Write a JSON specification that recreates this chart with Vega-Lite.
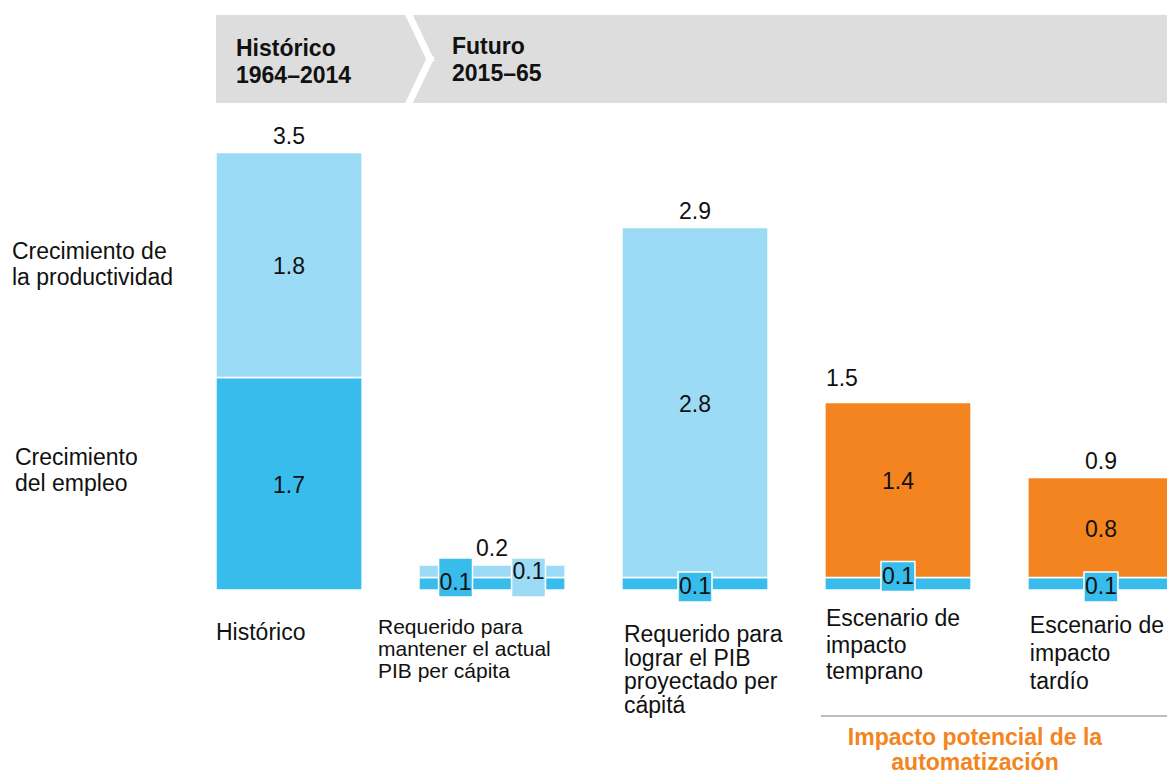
{
  "$schema": "https://vega.github.io/schema/vega-lite/v6.json",
  "width": 1167,
  "height": 776,
  "padding": 0,
  "autosize": {"type": "none"},
  "background": "white",
  "config": {
    "view": {"stroke": null},
    "axis": {"disable": true},
    "legend": {"disable": true},
    "text": {"font": "Liberation Sans", "fontSize": 23, "color": "#111111"}
  },
  "datasets": {
    "segmentos": [
      {"cat": "Histórico", "serie": "empleo", "orden": 1, "valor": 1.7},
      {"cat": "Histórico", "serie": "productividad", "orden": 2, "valor": 1.8},
      {"cat": "Mantener PIB", "serie": "empleo", "orden": 1, "valor": 0.1},
      {"cat": "Mantener PIB", "serie": "productividad", "orden": 2, "valor": 0.1},
      {"cat": "Lograr PIB", "serie": "empleo", "orden": 1, "valor": 0.1},
      {"cat": "Lograr PIB", "serie": "productividad", "orden": 2, "valor": 2.8},
      {"cat": "Impacto temprano", "serie": "empleo", "orden": 1, "valor": 0.1},
      {"cat": "Impacto temprano", "serie": "automatizacion", "orden": 2, "valor": 1.4},
      {"cat": "Impacto tardío", "serie": "empleo", "orden": 1, "valor": 0.1},
      {"cat": "Impacto tardío", "serie": "automatizacion", "orden": 2, "valor": 0.8}
    ],
    "totales": [
      {"cat": "Histórico", "total": 3.5},
      {"cat": "Mantener PIB", "total": 0.2},
      {"cat": "Lograr PIB", "total": 2.9},
      {"cat": "Impacto temprano", "total": 1.5},
      {"cat": "Impacto tardío", "total": 0.9}
    ],
    "categorias": [
      {"cat": "Histórico", "etiqueta": "Histórico"},
      {"cat": "Mantener PIB", "etiqueta": "Requerido para\nmantener el actual\nPIB per cápita"},
      {"cat": "Lograr PIB", "etiqueta": "Requerido para\nlograr el PIB\nproyectado per\ncápitá"},
      {"cat": "Impacto temprano", "etiqueta": "Escenario de\nimpacto\ntemprano"},
      {"cat": "Impacto tardío", "etiqueta": "Escenario de\nimpacto\ntardío"}
    ]
  },
  "layer": [
    {
      "layer": [
        {
          "data": {"name": "segmentos"},
          "mark": {"type": "bar", "stroke": "white", "strokeWidth": 1.5},
          "encoding": {
            "x": {"field": "cat", "type": "nominal", "axis": null,
                  "scale": {"domain": ["Histórico", "Mantener PIB", "Lograr PIB", "Impacto temprano", "Impacto tardío"], "range": [216, 1174], "paddingInner": 0.28, "paddingOuter": 0}},
            "y": {"field": "valor", "type": "quantitative", "stack": "zero", "axis": null,
                  "scale": {"domain": [0, 4], "range": [590, 90], "nice": false, "zero": false}},
            "color": {"field": "serie", "type": "nominal", "legend": null,
                      "scale": {"domain": ["empleo", "productividad", "automatizacion"], "range": ["#38BCEB", "#9BDBF6", "#F48420"]}},
            "order": {"field": "orden"}
          }
        },
        {
          "data": {"name": "segmentos"},
          "mark": {"type": "text", "baseline": "middle", "align": "center", "dy": 2},
          "encoding": {
            "x": {"field": "cat", "type": "nominal", "axis": null},
            "y": {"field": "valor", "type": "quantitative", "stack": "zero", "bandPosition": 0.5, "axis": null,
                  "scale": {"domain": [0, 4], "range": [590, 90], "nice": false, "zero": false}},
            "detail": {"field": "serie"},
            "order": {"field": "orden"},
            "text": {"condition": {"test": "datum.valor >= 0.5 && datum.cat !== 'Impacto temprano'", "field": "valor", "type": "quantitative", "format": ".1f"}, "value": ""}
          }
        },
        {
          "data": {"name": "segmentos"},
          "mark": {"type": "text", "baseline": "middle", "align": "center", "dy": -8},
          "encoding": {
            "x": {"field": "cat", "type": "nominal", "axis": null},
            "y": {"field": "valor", "type": "quantitative", "stack": "zero", "bandPosition": 0.5, "axis": null,
                  "scale": {"domain": [0, 4], "range": [590, 90], "nice": false, "zero": false}},
            "detail": {"field": "serie"},
            "order": {"field": "orden"},
            "text": {"condition": {"test": "datum.valor >= 0.5 && datum.cat === 'Impacto temprano'", "field": "valor", "type": "quantitative", "format": ".1f"}, "value": ""}
          }
        },
        {
          "data": {"name": "segmentos"},
          "transform": [{"filter": "datum.serie === 'empleo' && (datum.cat === 'Lograr PIB' || datum.cat === 'Impacto tardío')"}],
          "mark": {"type": "point", "filled": true, "opacity": 1, "stroke": "white", "strokeWidth": 1.5, "size": 1156, "shape": "M-1,-0.88L1,-0.88L1,0.88L-1,0.88Z", "yOffset": 9.5},
          "encoding": {
            "x": {"field": "cat", "type": "nominal", "axis": null},
            "y": {"field": "valor", "type": "quantitative", "axis": null, "scale": {"domain": [0, 4], "range": [590, 90], "nice": false, "zero": false}},
            "color": {"field": "serie", "type": "nominal", "legend": null}
          }
        },
        {
          "data": {"name": "segmentos"},
          "transform": [{"filter": "datum.serie === 'empleo' && datum.cat === 'Impacto temprano'"}],
          "mark": {"type": "point", "filled": true, "opacity": 1, "stroke": "white", "strokeWidth": 1.5, "size": 1156, "shape": "M-1,-0.88L1,-0.88L1,0.88L-1,0.88Z", "yOffset": -1},
          "encoding": {
            "x": {"field": "cat", "type": "nominal", "axis": null},
            "y": {"field": "valor", "type": "quantitative", "axis": null, "scale": {"domain": [0, 4], "range": [590, 90], "nice": false, "zero": false}},
            "color": {"field": "serie", "type": "nominal", "legend": null}
          }
        },
        {
          "data": {"name": "segmentos"},
          "transform": [{"filter": "datum.serie === 'empleo' && datum.cat === 'Mantener PIB'"}],
          "mark": {"type": "point", "filled": true, "opacity": 1, "stroke": "white", "strokeWidth": 1.5, "size": 1521, "shape": "M-0.87,-1L0.87,-1L0.87,1L-0.87,1Z", "xOffset": -36.5},
          "encoding": {
            "x": {"field": "cat", "type": "nominal", "axis": null},
            "y": {"field": "valor", "type": "quantitative", "axis": null, "scale": {"domain": [0, 4], "range": [590, 90], "nice": false, "zero": false}},
            "color": {"field": "serie", "type": "nominal", "legend": null}
          }
        },
        {
          "data": {"name": "segmentos"},
          "transform": [{"filter": "datum.serie === 'productividad' && datum.cat === 'Mantener PIB'"}],
          "mark": {"type": "point", "filled": true, "opacity": 1, "stroke": "white", "strokeWidth": 1.5, "size": 1521, "shape": "M-0.87,-1L0.87,-1L0.87,1L-0.87,1Z", "xOffset": 36.5},
          "encoding": {
            "x": {"field": "cat", "type": "nominal", "axis": null},
            "y": {"field": "valor", "type": "quantitative", "axis": null, "scale": {"domain": [0, 4], "range": [590, 90], "nice": false, "zero": false}},
            "color": {"field": "serie", "type": "nominal", "legend": null}
          }
        },
        {
          "data": {"name": "segmentos"},
          "transform": [{"filter": "datum.serie === 'empleo' && (datum.cat === 'Lograr PIB' || datum.cat === 'Impacto tardío')"}],
          "mark": {"type": "text", "baseline": "middle", "align": "center", "dy": 9.5},
          "encoding": {
            "x": {"field": "cat", "type": "nominal", "axis": null},
            "y": {"field": "valor", "type": "quantitative", "axis": null, "scale": {"domain": [0, 4], "range": [590, 90], "nice": false, "zero": false}},
            "text": {"field": "valor", "type": "quantitative", "format": ".1f"}
          }
        },
        {
          "data": {"name": "segmentos"},
          "transform": [{"filter": "datum.serie === 'empleo' && datum.cat === 'Impacto temprano'"}],
          "mark": {"type": "text", "baseline": "middle", "align": "center", "dy": -1},
          "encoding": {
            "x": {"field": "cat", "type": "nominal", "axis": null},
            "y": {"field": "valor", "type": "quantitative", "axis": null, "scale": {"domain": [0, 4], "range": [590, 90], "nice": false, "zero": false}},
            "text": {"field": "valor", "type": "quantitative", "format": ".1f"}
          }
        },
        {
          "data": {"name": "segmentos"},
          "transform": [{"filter": "datum.serie === 'empleo' && datum.cat === 'Mantener PIB'"}],
          "mark": {"type": "text", "baseline": "middle", "align": "center", "dx": -36.5, "dy": 5.5},
          "encoding": {
            "x": {"field": "cat", "type": "nominal", "axis": null},
            "y": {"field": "valor", "type": "quantitative", "axis": null, "scale": {"domain": [0, 4], "range": [590, 90], "nice": false, "zero": false}},
            "text": {"field": "valor", "type": "quantitative", "format": ".1f"}
          }
        },
        {
          "data": {"name": "segmentos"},
          "transform": [{"filter": "datum.serie === 'productividad' && datum.cat === 'Mantener PIB'"}],
          "mark": {"type": "text", "baseline": "middle", "align": "center", "dx": 36.5, "dy": -5.5},
          "encoding": {
            "x": {"field": "cat", "type": "nominal", "axis": null},
            "y": {"field": "valor", "type": "quantitative", "axis": null, "scale": {"domain": [0, 4], "range": [590, 90], "nice": false, "zero": false}},
            "text": {"field": "valor", "type": "quantitative", "format": ".1f"}
          }
        },
        {
          "data": {"name": "totales"},
          "transform": [{"filter": "datum.cat !== 'Impacto temprano'"}],
          "mark": {"type": "text", "baseline": "alphabetic", "align": "center", "dy": -9},
          "encoding": {
            "x": {"field": "cat", "type": "nominal", "axis": null},
            "y": {"field": "total", "type": "quantitative", "axis": null, "scale": {"domain": [0, 4], "range": [590, 90], "nice": false, "zero": false}},
            "text": {"field": "total", "type": "quantitative", "format": ".1f"}
          }
        },
        {
          "data": {"name": "totales"},
          "transform": [{"filter": "datum.cat === 'Impacto temprano'"}],
          "mark": {"type": "text", "baseline": "alphabetic", "align": "left", "dx": 1, "dy": -16.5},
          "encoding": {
            "x": {"field": "cat", "type": "nominal", "bandPosition": 0, "axis": null},
            "y": {"field": "total", "type": "quantitative", "axis": null, "scale": {"domain": [0, 4], "range": [590, 90], "nice": false, "zero": false}},
            "text": {"field": "total", "type": "quantitative", "format": ".1f"}
          }
        },
        {
          "data": {"name": "categorias"},
          "transform": [{"filter": "datum.cat === 'Histórico'"}],
          "mark": {"type": "text", "baseline": "alphabetic", "align": "left", "lineBreak": "\n", "dy": 50},
          "encoding": {
            "x": {"field": "cat", "type": "nominal", "bandPosition": 0, "axis": null},
            "y": {"datum": 0, "type": "quantitative", "axis": null, "scale": {"domain": [0, 4], "range": [590, 90], "nice": false, "zero": false}},
            "text": {"field": "etiqueta"}
          }
        },
        {
          "data": {"name": "categorias"},
          "transform": [{"filter": "datum.cat === 'Mantener PIB'"}],
          "mark": {"type": "text", "baseline": "alphabetic", "align": "left", "lineBreak": "\n", "fontSize": 21, "lineHeight": 22, "dx": -41, "dy": 44},
          "encoding": {
            "x": {"field": "cat", "type": "nominal", "bandPosition": 0, "axis": null},
            "y": {"datum": 0, "type": "quantitative", "axis": null, "scale": {"domain": [0, 4], "range": [590, 90], "nice": false, "zero": false}},
            "text": {"field": "etiqueta"}
          }
        },
        {
          "data": {"name": "categorias"},
          "transform": [{"filter": "datum.cat === 'Lograr PIB'"}],
          "mark": {"type": "text", "baseline": "alphabetic", "align": "left", "lineBreak": "\n", "lineHeight": 23.5, "dx": 2, "dy": 52},
          "encoding": {
            "x": {"field": "cat", "type": "nominal", "bandPosition": 0, "axis": null},
            "y": {"datum": 0, "type": "quantitative", "axis": null, "scale": {"domain": [0, 4], "range": [590, 90], "nice": false, "zero": false}},
            "text": {"field": "etiqueta"}
          }
        },
        {
          "data": {"name": "categorias"},
          "transform": [{"filter": "datum.cat === 'Impacto temprano'"}],
          "mark": {"type": "text", "baseline": "alphabetic", "align": "left", "lineBreak": "\n", "lineHeight": 26.5, "dx": 1, "dy": 36},
          "encoding": {
            "x": {"field": "cat", "type": "nominal", "bandPosition": 0, "axis": null},
            "y": {"datum": 0, "type": "quantitative", "axis": null, "scale": {"domain": [0, 4], "range": [590, 90], "nice": false, "zero": false}},
            "text": {"field": "etiqueta"}
          }
        },
        {
          "data": {"name": "categorias"},
          "transform": [{"filter": "datum.cat === 'Impacto tardío'"}],
          "mark": {"type": "text", "baseline": "alphabetic", "align": "left", "lineBreak": "\n", "lineHeight": 28, "dx": 2, "dy": 43},
          "encoding": {
            "x": {"field": "cat", "type": "nominal", "bandPosition": 0, "axis": null},
            "y": {"datum": 0, "type": "quantitative", "axis": null, "scale": {"domain": [0, 4], "range": [590, 90], "nice": false, "zero": false}},
            "text": {"field": "etiqueta"}
          }
        }
      ]
    },
    {
      "data": {"values": [{}]},
      "layer": [
        {
          "mark": {"type": "rect", "color": "#DDDDDD"},
          "encoding": {
            "x": {"datum": -0.3596, "type": "quantitative", "axis": null, "scale": {"domain": [-0.5, 4.5], "range": [187.5, 1202.5], "nice": false, "zero": false}},
            "x2": {"datum": 4.5},
            "y": {"datum": 4.6, "type": "quantitative", "axis": null, "scale": {"domain": [0, 4], "range": [590, 90], "nice": false, "zero": false}},
            "y2": {"datum": 3.896}
          }
        },
        {
          "mark": {"type": "rule", "color": "white", "strokeWidth": 7, "strokeCap": "square"},
          "encoding": {
            "x": {"datum": 0.5675, "type": "quantitative", "axis": null},
            "x2": {"datum": 0.6946},
            "y": {"datum": 4.68, "type": "quantitative", "axis": null},
            "y2": {"datum": 4.248}
          }
        },
        {
          "mark": {"type": "rule", "color": "white", "strokeWidth": 7, "strokeCap": "square"},
          "encoding": {
            "x": {"datum": 0.6946, "type": "quantitative", "axis": null},
            "x2": {"datum": 0.5675},
            "y": {"datum": 4.248, "type": "quantitative", "axis": null},
            "y2": {"datum": 3.816}
          }
        },
        {
          "mark": {"type": "text", "text": ["Histórico", "1964–2014"], "fontWeight": "bold", "align": "left", "baseline": "alphabetic", "lineHeight": 27},
          "encoding": {
            "x": {"datum": -0.2611, "type": "quantitative", "axis": null},
            "y": {"datum": 4.272, "type": "quantitative", "axis": null}
          }
        },
        {
          "mark": {"type": "text", "text": ["Futuro", "2015–65"], "fontWeight": "bold", "align": "left", "baseline": "alphabetic", "lineHeight": 27},
          "encoding": {
            "x": {"datum": 0.803, "type": "quantitative", "axis": null},
            "y": {"datum": 4.288, "type": "quantitative", "axis": null}
          }
        },
        {
          "mark": {"type": "text", "text": ["Crecimiento de", "la productividad"], "align": "left", "baseline": "alphabetic", "lineHeight": 26},
          "encoding": {
            "x": {"datum": -1.3645, "type": "quantitative", "axis": null},
            "y": {"datum": 2.648, "type": "quantitative", "axis": null}
          }
        },
        {
          "mark": {"type": "text", "text": ["Crecimiento", "del empleo"], "align": "left", "baseline": "alphabetic", "lineHeight": 26},
          "encoding": {
            "x": {"datum": -1.3498, "type": "quantitative", "axis": null},
            "y": {"datum": 1.0, "type": "quantitative", "axis": null}
          }
        },
        {
          "mark": {"type": "rule", "color": "#BDBDBD", "strokeWidth": 2},
          "encoding": {
            "x": {"datum": 2.6207, "type": "quantitative", "axis": null},
            "x2": {"datum": 4.5},
            "y": {"datum": -1.008, "type": "quantitative", "axis": null}
          }
        },
        {
          "mark": {"type": "text", "text": ["Impacto potencial de la", "automatización"], "fontWeight": "bold", "color": "#F48420", "align": "center", "baseline": "alphabetic", "lineHeight": 25},
          "encoding": {
            "x": {"datum": 3.3793, "type": "quantitative", "axis": null},
            "y": {"datum": -1.24, "type": "quantitative", "axis": null}
          }
        }
      ]
    }
  ],
  "resolve": {"scale": {"x": "independent", "y": "independent"}}
}
